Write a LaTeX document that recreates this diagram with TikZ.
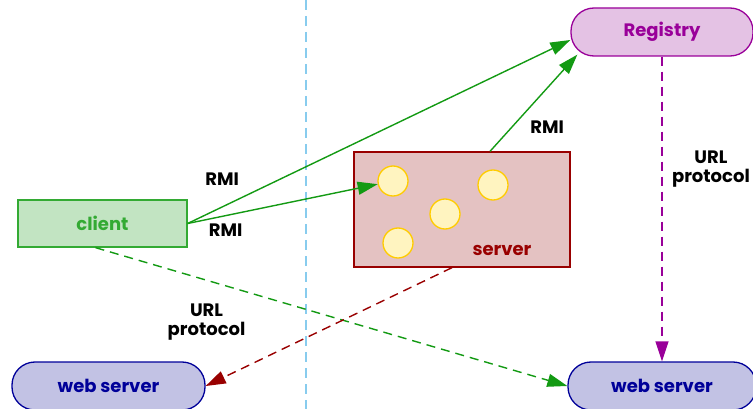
\documentclass[tikz,border=0pt]{standalone}
\usepackage{fontspec}
\setmainfont{Poppins}
\usetikzlibrary{arrows.meta}
\definecolor{rmigreen}{HTML}{139A13}
\definecolor{clientfill}{HTML}{C2E4C2}
\definecolor{clientdraw}{HTML}{33AA33}
\definecolor{regfill}{HTML}{E4C2E4}
\definecolor{regdraw}{HTML}{990099}
\definecolor{srvfill}{HTML}{E4C2C2}
\definecolor{srvdraw}{HTML}{990000}
\definecolor{webfill}{HTML}{C2C2E4}
\definecolor{webdraw}{HTML}{000099}
\definecolor{objfill}{HTML}{FFF4C0}
\definecolor{objdraw}{HTML}{FFCC00}
\definecolor{sepline}{HTML}{88CCEE}
\tikzset{
  every node/.style={font=\fontsize{18}{20}\selectfont\bfseries},
  box/.style={draw, line width=1.3pt, inner sep=0pt},
  pill/.style={box, rounded corners=23pt, minimum height=48pt},
  obj/.style={circle, draw=objdraw, fill=objfill, line width=1.3pt, minimum size=30pt, inner sep=0pt},
  tip/.style={-{Triangle[length=20pt,width=13pt]}},
  link/.style={tip, line width=1.4pt},
  lbl/.style={align=center, text=black, font=\fontsize{18}{19}\selectfont\bfseries},
  urldash/.style={dash pattern=on 9pt off 6pt}
}
\begin{document}
\begin{tikzpicture}[x=1pt,y=-1pt]
    \useasboundingbox (0,0) rectangle (753,409);

    \draw [sepline, line width=1.6pt, dash pattern=on 10pt off 6pt] (306,0) -- (306,409);

    \node [pill, draw=regdraw, fill=regfill, text=regdraw, minimum width=182pt] (registry) at (662,32)  {Registry};
    \node [box, draw=clientdraw, fill=clientfill, text=clientdraw, minimum width=169pt, minimum height=47pt] (client) at (102.5,223.5) {client};
    \node [box, draw=srvdraw, fill=srvfill, minimum width=216pt, minimum height=115pt] (server) at (462,209.5) {};
    \node [text=srvdraw] (srvname) at (502,250) {server};
    \node [pill, draw=webdraw, fill=webfill, text=webdraw, minimum width=193pt] (wsl) at (108.5,386) {web server};
    \node [pill, draw=webdraw, fill=webfill, text=webdraw, minimum width=188pt] (wsr) at (662,386) {web server};

    % remote objects inside the server
    \node [obj] (o1) at (393,181) {};
    \node [obj] (o2) at (493,185) {};
    \node [obj] (o3) at (445,214) {};
    \node [obj] (o4) at (398,243) {};

    \draw [link, rmigreen] (client.east) to
        node[lbl, pos=0.09, yshift=28pt] {RMI}
        ([yshift=-8pt]registry.west);

    \draw [link, rmigreen] (client.east) to
        node[lbl, pos=0.2, yshift=-15pt] {RMI}
        (o1);

    \draw [link, rmigreen] ([xshift=28pt]server.north) to
        node[lbl, pos=0.3, xshift=31pt, yshift=-5pt] {RMI}
        ([xshift=7pt,yshift=2pt]registry.south west);

    \draw [link, rmigreen, urldash] ([xshift=-7pt]client.south) to (wsr.west);

    \draw [link, srvdraw, urldash] ([xshift=-10pt]server.south) to
        node[lbl, pos=0.7, xshift=-73pt, yshift=28pt] {URL\\protocol}
        (wsl.east);

    \draw [link, regdraw, urldash] (registry.south) to
        node[lbl, pos=0.37, right=6pt] {URL\\protocol}
        (wsr.north);
\end{tikzpicture}
\end{document}
